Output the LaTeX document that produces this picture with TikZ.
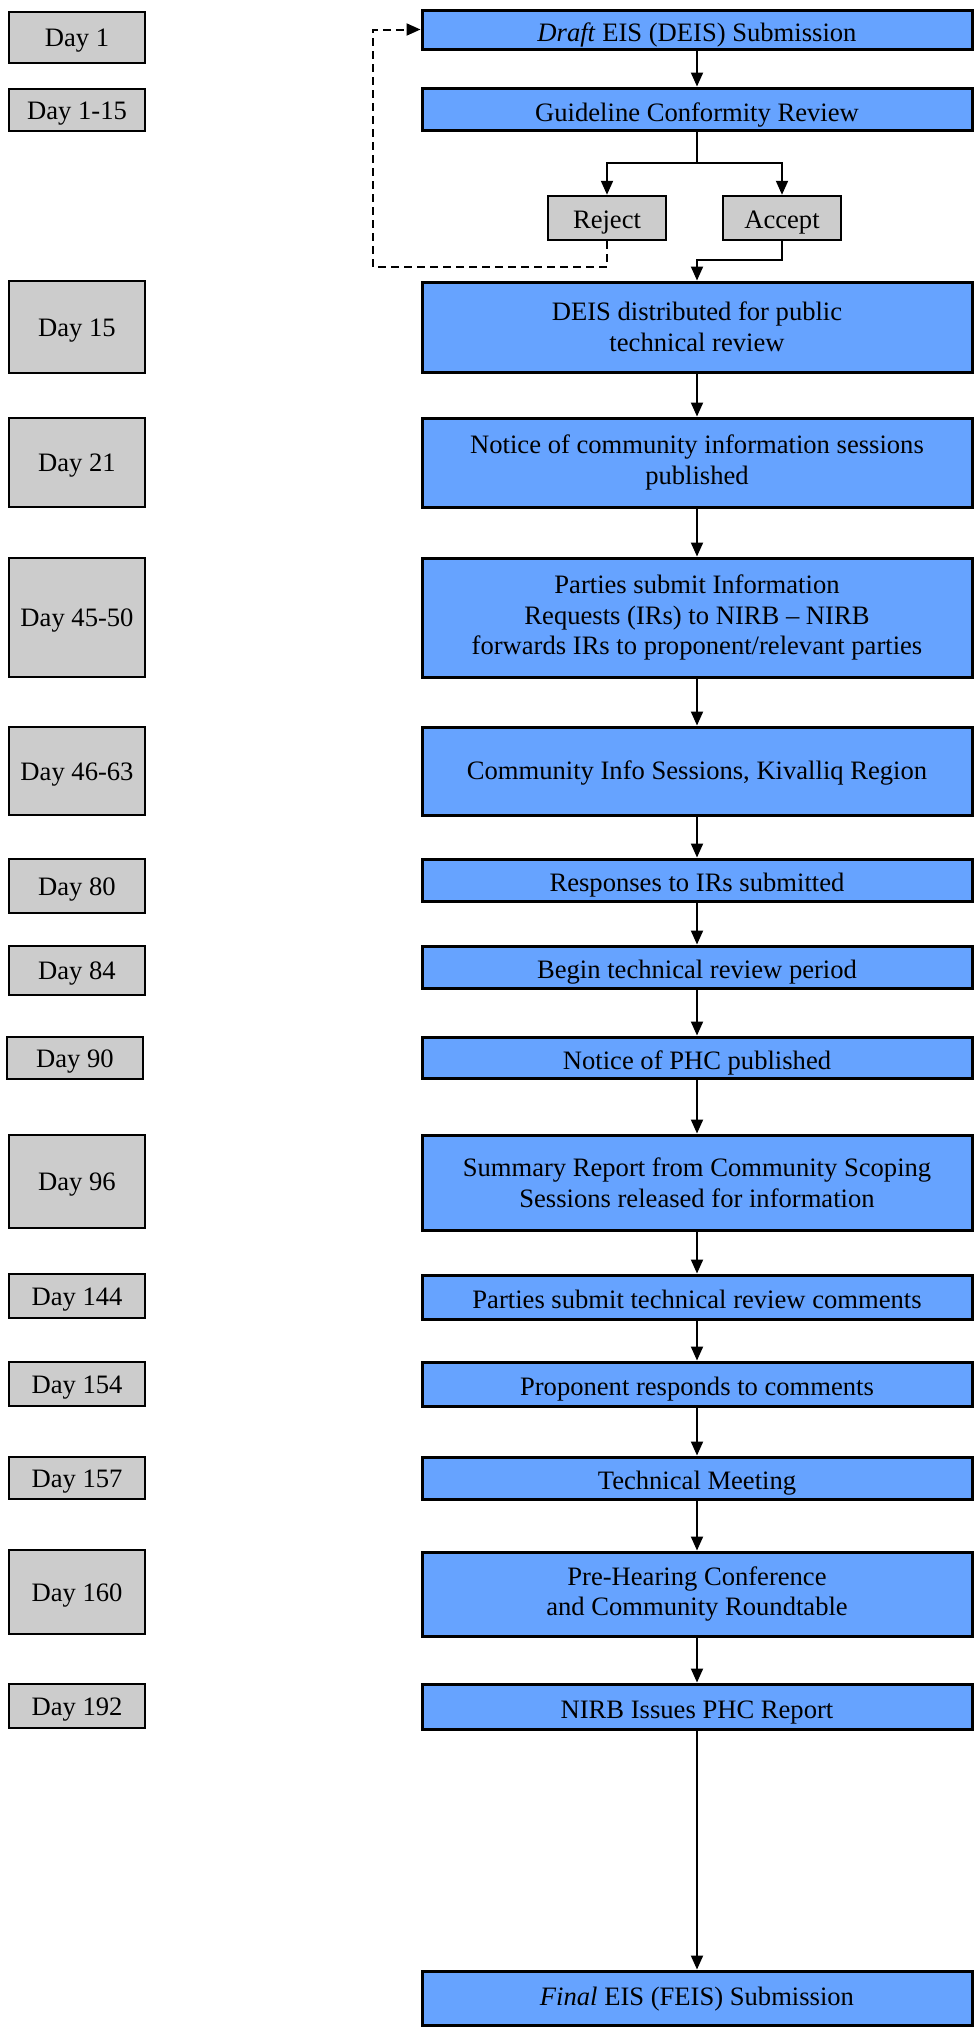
\documentclass[tikz,border=0pt]{standalone}
\usepackage{fontspec}
\setmainfont{Liberation Serif}
\usetikzlibrary{arrows.meta}

\definecolor{stageblue}{RGB}{102,163,255}
\definecolor{daygray}{RGB}{204,204,204}

\begin{document}
\begin{tikzpicture}[x=0.5pt,y=-0.5pt,
		boxbase/.style={draw=black, inner sep=0pt, font=\fontsize{13.3}{15.3}\selectfont},
		stage/.style={boxbase, line width=1.5pt, fill=stageblue, minimum width=275pt, text height=11.6pt, text depth=0pt},
		stagelines/.style={boxbase, line width=1.5pt, fill=stageblue, minimum width=275pt, align=center},
		daybox/.style={boxbase, line width=1.25pt, fill=daygray, minimum width=68pt, text height=9pt, text depth=0pt},
		choice/.style={daybox, minimum width=59pt, minimum height=22pt, text height=10pt},
		flow/.style={line width=1pt, -{Triangle[length=7pt,width=6pt]}}]
		\newcommand{\stepX}{697}
		\newcommand{\dayX}{77}
		
		\useasboundingbox (0,0) rectangle (976,2035);
		
		% process steps
		\node[stage, minimum height=19.5pt] (draft) at (\stepX,29.5) {\textit{Draft} EIS (DEIS) Submission};
		\node[stage, minimum height=21pt, text height=12.6pt] (guide) at (\stepX,109) {Guideline Conformity Review};
		\node[choice] (reject) at (607,218) {Reject};
		\node[choice] (accept) at (782,218) {Accept};
		\node[stagelines, minimum height=45pt] (deis) at (\stepX,327) {DEIS distributed for public\\technical review};
		\node[stagelines, minimum height=44.5pt] (notice) at (\stepX,462.5) {Notice of community information sessions\\published};
		\node[stagelines, minimum height=59.5pt] (irs) at (\stepX,617.5) {Parties submit Information\\Requests (IRs) to NIRB -- NIRB\\forwards IRs to proponent/relevant parties};
		\node[stage, minimum height=44pt, text height=8pt] (info) at (\stepX,771) {Community Info Sessions, Kivalliq Region};
		\node[stage, minimum height=21pt] (resp) at (\stepX,880) {Responses to IRs submitted};
		\node[stage, minimum height=21pt] (begin) at (\stepX,967) {Begin technical review period};
		\node[stage, minimum height=20.5pt] (phc) at (\stepX,1057.5) {Notice of PHC published};
		\node[stagelines, minimum height=47.5pt] (summary) at (\stepX,1182.5) {Summary Report from Community Scoping\\Sessions released for information};
		\node[stage, minimum height=22pt] (comments) at (\stepX,1297) {Parties submit technical review comments};
		\node[stage, minimum height=22pt] (respond) at (\stepX,1384) {Proponent responds to comments};
		\node[stage, minimum height=21pt] (meeting) at (\stepX,1478) {Technical Meeting};
		\node[stagelines, minimum height=42pt] (prehear) at (\stepX,1594) {Pre-Hearing Conference\\and Community Roundtable};
		\node[stage, minimum height=22.5pt] (report) at (\stepX,1706.5) {NIRB Issues PHC Report};
		\node[stage, minimum height=27pt, text height=7pt] (final) at (\stepX,1998) {\textit{Final} EIS (FEIS) Submission};
		
		% day labels
		\node[daybox, minimum height=25.5pt] (d1) at (\dayX,37.5) {Day 1};
		\node[daybox, minimum height=21pt] (d1to15) at (\dayX,110) {Day 1-15};
		\node[daybox, minimum height=46pt] (d15) at (\dayX,327) {Day 15};
		\node[daybox, minimum height=44.5pt] (d21) at (\dayX,462.5) {Day 21};
		\node[daybox, minimum height=59.5pt] (d45to50) at (\dayX,617.5) {Day 45-50};
		\node[daybox, minimum height=44pt] (d46to63) at (\dayX,771) {Day 46-63};
		\node[daybox, minimum height=27pt] (d80) at (\dayX,886) {Day 80};
		\node[daybox, minimum height=24.5pt] (d84) at (\dayX,970.5) {Day 84};
		\node[daybox, minimum height=21pt] (d90) at (75,1058) {Day 90};
		\node[daybox, minimum height=46.5pt] (d96) at (\dayX,1181.5) {Day 96};
		\node[daybox, minimum height=22pt] (d144) at (\dayX,1296) {Day 144};
		\node[daybox, minimum height=22pt] (d154) at (\dayX,1384) {Day 154};
		\node[daybox, minimum height=21pt] (d157) at (\dayX,1478) {Day 157};
		\node[daybox, minimum height=42pt] (d160) at (\dayX,1592) {Day 160};
		\node[daybox, minimum height=22pt] (d192) at (\dayX,1706) {Day 192};
		
		% conformity branch
		\coordinate (split) at (\stepX,163);
		\coordinate (merge) at (\stepX,260);
		\coordinate (loop) at (373,267);
		\draw[line width=1pt] (guide) -- (split);
		\draw[flow] (split) -| (reject);
		\draw[flow] (split) -| (accept);
		\draw[flow] (accept) |- (merge) -- (deis);
		\draw[flow, dash pattern=on 4pt off 2.5pt] (reject) |- (loop) |- (draft);
		
		% main line
		\draw[flow] (draft) -- (guide);
		\draw[flow] (deis) -- (notice);
		\draw[flow] (notice) -- (irs);
		\draw[flow] (irs) -- (info);
		\draw[flow] (info) -- (resp);
		\draw[flow] (resp) -- (begin);
		\draw[flow] (begin) -- (phc);
		\draw[flow] (phc) -- (summary);
		\draw[flow] (summary) -- (comments);
		\draw[flow] (comments) -- (respond);
		\draw[flow] (respond) -- (meeting);
		\draw[flow] (meeting) -- (prehear);
		\draw[flow] (prehear) -- (report);
		\draw[flow] (report) -- (final);
\end{tikzpicture}
\end{document}
